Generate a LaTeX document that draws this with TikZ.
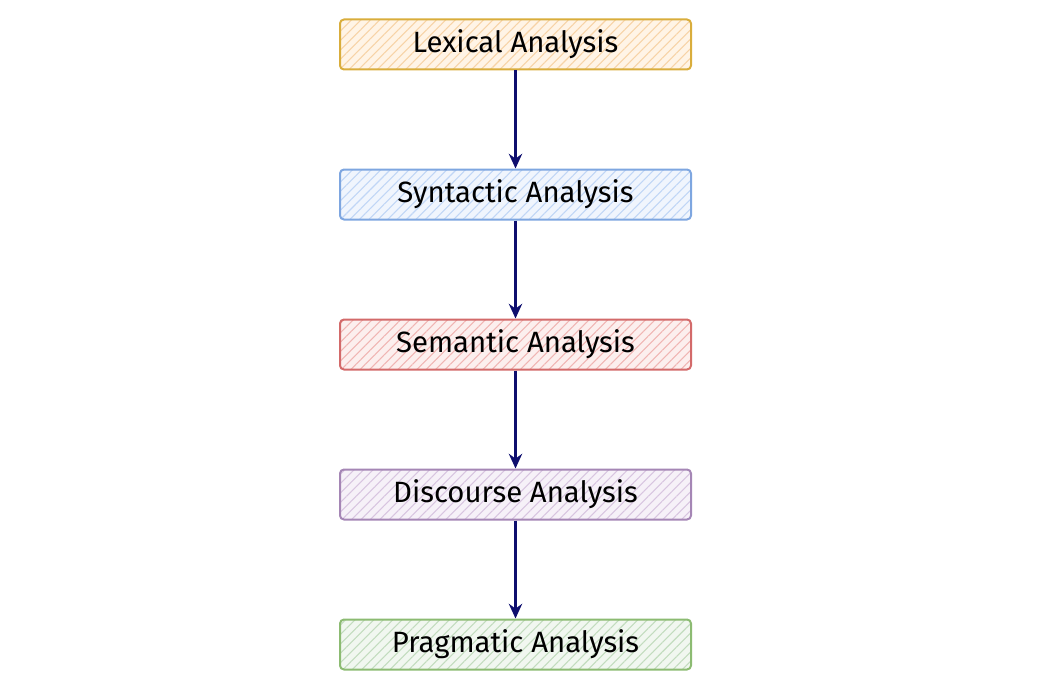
\documentclass[tikz,border=0pt]{standalone}
\usepackage{fontspec}
\setmainfont{Fira Sans}
\usetikzlibrary{patterns.meta,arrows.meta}
\definecolor{bO}{HTML}{D9AD3C}\definecolor{fO}{HTML}{FFF4E6}\definecolor{hO}{HTML}{F7D3A6}
\definecolor{bB}{HTML}{7EA6E0}\definecolor{fB}{HTML}{F0F5FD}\definecolor{hB}{HTML}{C0D6F6}
\definecolor{bR}{HTML}{D36A6A}\definecolor{fR}{HTML}{FCEFEE}\definecolor{hR}{HTML}{F0B5B3}
\definecolor{bP}{HTML}{A586B5}\definecolor{fP}{HTML}{F6F1F8}\definecolor{hP}{HTML}{D8C5E0}
\definecolor{bG}{HTML}{8CBB72}\definecolor{fG}{HTML}{F1F7F0}\definecolor{hG}{HTML}{C2DCBE}
\definecolor{arr}{HTML}{0E0E6E}
\tikzset{
  stagebox/.style args={#1/#2/#3}{draw=#1, line width=1.5pt, rounded corners=3pt,
    minimum width=351*0.75pt, minimum height=50*0.75pt, inner sep=0pt,
    preaction={fill=#2},
    pattern={Lines[angle=45,distance=5pt,line width=0.8pt]}, pattern color=#3,
    font=\fontsize{22}{26}\selectfont, text=black},
  flow/.style={draw=arr, line width=1.8pt, -{Stealth[length=11pt,width=10pt]}}
}
\begin{document}
\begin{tikzpicture}[x=0.75pt,y=-0.75pt]
\useasboundingbox (0,0) rectangle (1047,692);
\node[stagebox=bO/fO/hO] (lex) at (515.5,44.5) {Lexical Analysis};
\node[stagebox=bB/fB/hB] (syn) at (515.5,194.5) {Syntactic Analysis};
\node[stagebox=bR/fR/hR] (sem) at (515.5,344.5) {Semantic Analysis};
\node[stagebox=bP/fP/hP] (dis) at (515.5,494.5) {Discourse Analysis};
\node[stagebox=bG/fG/hG] (pra) at (515.5,644.5) {Pragmatic Analysis};
\draw[flow] (lex) -- (syn);
\draw[flow] (syn) -- (sem);
\draw[flow] (sem) -- (dis);
\draw[flow] (dis) -- (pra);
\end{tikzpicture}
\end{document}
